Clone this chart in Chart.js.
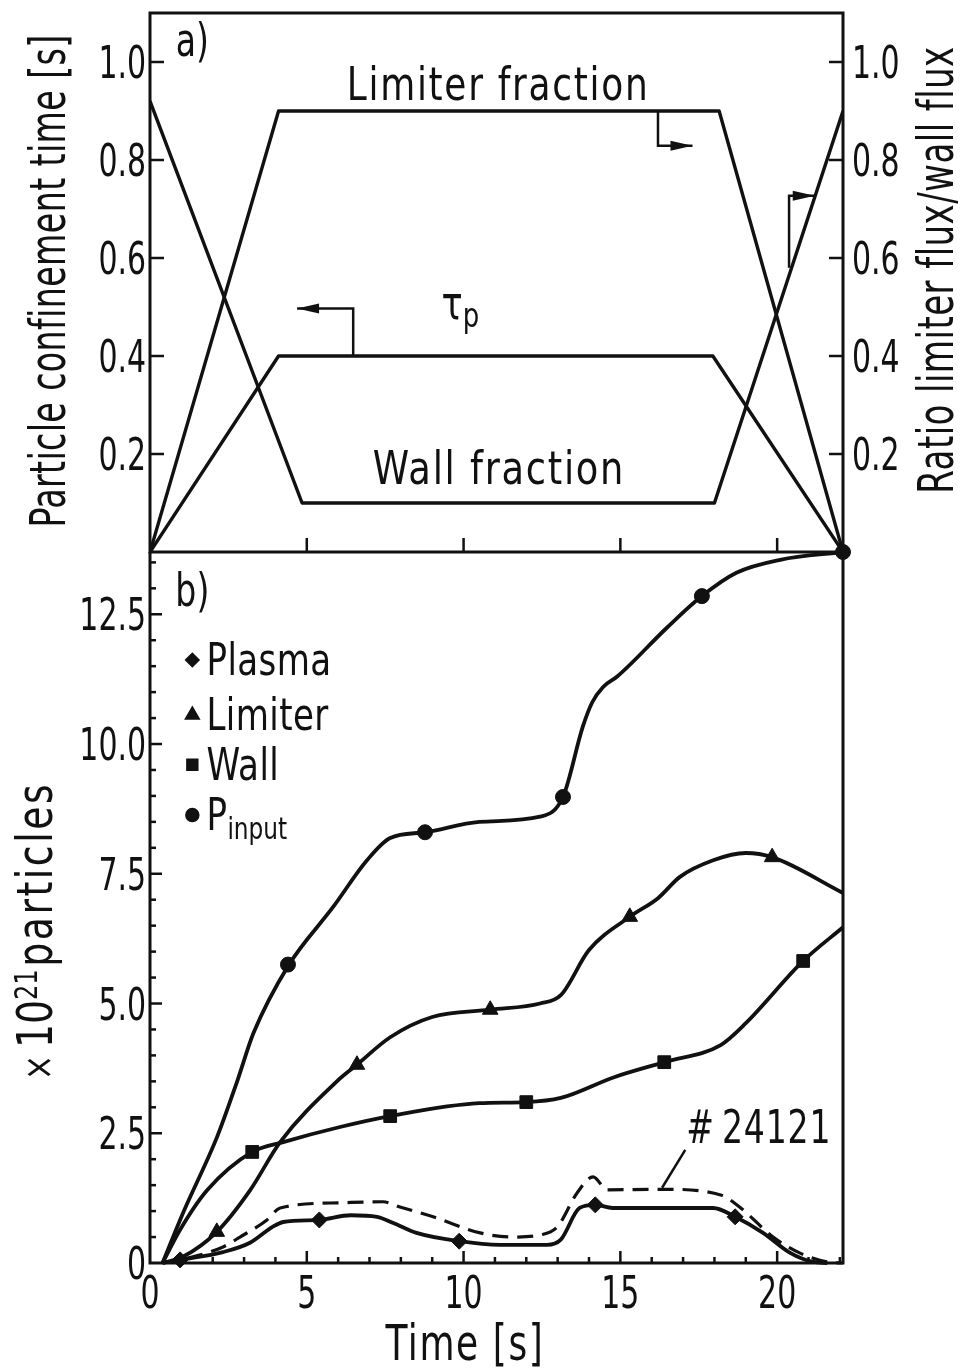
<!DOCTYPE html>
<html>
<head>
<meta charset="utf-8">
<script src="https://cdn.jsdelivr.net/npm/chart.js@4.4.1/dist/chart.umd.min.js"></script>
<style>
  html, body { margin: 0; padding: 0; background: #fff; }
  #wrap { position: relative; width: 961px; height: 1370px; overflow: hidden; }
  canvas { position: absolute; left: 0; }
  #top { top: 0; }
  #bottom { top: 540px; }
</style>
</head>
<body>
<div id="wrap">
  <canvas id="top" width="961" height="560"></canvas>
  <canvas id="bottom" width="961" height="830"></canvas>
</div>
<script>
const FONT = "'DejaVu Sans Condensed', 'DejaVu Sans', sans-serif";
const INK = '#111';

// panel a) – piecewise linear programme
const limFracTime = [0, 4.1, 18.15, 22.1];
const limFracVal = [0, 0.90, 0.90, 0];
const wallFracTime = [0, 4.85, 18.0, 22.1];
const wallFracVal = [0.92, 0.10, 0.10, 0.90];
const tauTime = [0, 4.1, 17.95, 22.1];
const tauVal = [0, 0.40, 0.40, 0];
const aTicks = [0.2, 0.4, 0.6, 0.8, 1.0];
const aTickLabels = ['0.2', '0.4', '0.6', '0.8', '1.0'];

// panel b) – particle inventories, x10^21
const pInTime = [0.4, 1.05, 2.14, 2.78, 3.3, 4.4, 5.84, 6.92, 7.66, 8.77, 10.5, 12.44, 13.17, 13.8, 14.1, 14.45, 14.9, 16.5, 17.6, 18.7, 20.1, 22.1];
const pInVal = [0, 0.96, 2.43, 3.5, 4.43, 5.72, 6.86, 7.76, 8.19, 8.3, 8.5, 8.6, 8.98, 10.33, 10.8, 11.1, 11.3, 12.25, 12.85, 13.3, 13.55, 13.7];
const limTime = [0.4, 1.05, 2.13, 3.19, 4.15, 5.96, 6.6, 7.66, 9.0, 10.85, 12.44, 13.1, 14.0, 15.3, 16.2, 16.9, 17.96, 19.0, 19.84, 22.1];
const limVal = [0, 0.12, 0.6, 1.4, 2.33, 3.5, 3.82, 4.35, 4.74, 4.88, 5.0, 5.16, 6.03, 6.67, 7.03, 7.44, 7.76, 7.9, 7.82, 7.13];
const wallTime = [0.4, 0.96, 1.82, 3.26, 4.25, 6.06, 7.66, 10.5, 12.0, 13.1, 14.8, 16.4, 18.2, 19.0, 20.83, 22.1];
const wallVal = [0, 0.64, 1.4, 2.14, 2.33, 2.62, 2.83, 3.08, 3.1, 3.18, 3.58, 3.87, 4.2, 4.62, 5.82, 6.47];
const plasmaTime = [0.4, 0.96, 2.33, 3.19, 3.92, 4.25, 5.4, 6.4, 7.24, 7.76, 8.5, 9.86, 11.16, 12.66, 13.1, 13.7, 14.2, 14.75, 17.96, 18.66, 19.55, 20.4, 21.15, 21.6];
const plasmaVal = [0, 0.06, 0.21, 0.39, 0.7, 0.79, 0.83, 0.92, 0.89, 0.77, 0.58, 0.42, 0.35, 0.35, 0.45, 1.06, 1.12, 1.06, 1.06, 0.89, 0.58, 0.2, 0.02, 0];
const shotTime = [0.4, 0.96, 2.33, 2.87, 3.73, 4.15, 6.06, 7.43, 7.97, 9.03, 10.53, 11.58, 12.44, 12.98, 13.62, 14.13, 14.58, 16.37, 18.2, 18.8, 19.87, 20.73, 21.6, 22.1];
const shotVal = [0, 0.06, 0.31, 0.5, 0.83, 1.06, 1.16, 1.18, 1.08, 0.89, 0.58, 0.5, 0.54, 0.69, 1.35, 1.66, 1.41, 1.42, 1.31, 1.08, 0.5, 0.19, 0.02, 0];

const pInMarkTime = [4.4, 8.77, 13.17, 17.6, 22.1];
const pInMarkVal = [5.75, 8.3, 8.98, 12.85, 13.7];
const limMarkTime = [2.13, 6.6, 10.85, 15.3, 19.84];
const limMarkVal = [0.6, 3.82, 4.88, 6.67, 7.82];
const wallMarkTime = [3.26, 7.66, 12.0, 16.4, 20.83];
const wallMarkVal = [2.14, 2.83, 3.1, 3.87, 5.82];
const plasmaMarkTime = [0.96, 5.4, 9.86, 14.2, 18.66];
const plasmaMarkVal = [0.06, 0.83, 0.42, 1.12, 0.89];

const bTicks = [0, 2.5, 5, 7.5, 10, 12.5];
const bTickLabels = ['0', '2.5', '5.0', '7.5', '10.0', '12.5'];
const timeTicks = [0, 5, 10, 15, 20];
const timeTickLabels = ['0', '5', '10', '15', '20'];

const pts = (xs, ys) => xs.map((x, i) => ({ x, y: ys[i] }));

function tick(ctx, x1, y1, x2, y2) {
  ctx.beginPath(); ctx.moveTo(x1, y1); ctx.lineTo(x2, y2); ctx.stroke();
}

function arrow(ctx, p) {
  ctx.beginPath();
  ctx.moveTo(p[0][0], p[0][1]);
  for (let i = 1; i < p.length; i++) ctx.lineTo(p[i][0], p[i][1]);
  ctx.stroke();
  const [px, py] = p[p.length - 2], [tx, ty] = p[p.length - 1];
  const a = Math.atan2(ty - py, tx - px), L = 22, W = 5;
  ctx.beginPath();
  ctx.moveTo(tx, ty);
  ctx.lineTo(tx - L * Math.cos(a) + W * Math.sin(a), ty - L * Math.sin(a) - W * Math.cos(a));
  ctx.lineTo(tx - L * Math.cos(a) - W * Math.sin(a), ty - L * Math.sin(a) + W * Math.cos(a));
  ctx.closePath();
  ctx.fill();
}

// text segments laid one after another from a baseline point, squeezed by sx
function rich(ctx, segs, x, y, o) {
  o = o || {};
  ctx.save();
  ctx.translate(x, y);
  if (o.rotate) ctx.rotate(o.rotate);
  ctx.scale(o.sx || 1, 1);
  ctx.fillStyle = INK;
  ctx.textBaseline = 'alphabetic';
  ctx.textAlign = 'left';
  let total = 0;
  segs.forEach(s => {
    ctx.font = `${s.size}px ${FONT}`;
    ctx.letterSpacing = (s.sp || 0) + 'px';
    s.w = ctx.measureText(s.t).width + (s.gap || 0);
    total += s.w;
  });
  let cx = o.align === 'left' ? 0 : o.align === 'right' ? -total : -total / 2;
  segs.forEach(s => {
    ctx.font = `${s.size}px ${FONT}`;
    ctx.letterSpacing = (s.sp || 0) + 'px';
    ctx.fillText(s.t, cx, s.dy || 0);
    cx += s.w;
  });
  ctx.restore();
}

const TICK_SIZE = 45, TICK_SX = 0.74;

const panelA = {
  id: 'panelA',
  afterDraw(chart) {
    const { ctx, chartArea: a, scales: { x, y, y2 } } = chart;
    ctx.save();
    ctx.strokeStyle = INK; ctx.fillStyle = INK;
    ctx.lineWidth = 3;
    ctx.strokeRect(a.left, a.top, a.right - a.left, a.bottom - a.top);
    ctx.lineWidth = 2.5;
    aTicks.forEach(v => {
      tick(ctx, a.left, y.getPixelForValue(v), a.left + 14, y.getPixelForValue(v));
      tick(ctx, a.right, y2.getPixelForValue(v), a.right - 14, y2.getPixelForValue(v));
    });
    timeTicks.slice(1).forEach(t => {
      const px = x.getPixelForValue(t);
      tick(ctx, px, a.bottom, px, a.bottom - 14);
    });
    const P = (t, v) => [x.getPixelForValue(t), y.getPixelForValue(v)];
    arrow(ctx, [P(6.48, 0.40), P(6.48, 0.497), P(4.69, 0.497)]);
    arrow(ctx, [P(16.2, 0.90), P(16.2, 0.829), P(17.3, 0.829)]);
    arrow(ctx, [P(20.38, 0.58), P(20.38, 0.727), P(21.2, 0.727)]);
    ctx.restore();

    aTicks.forEach((v, i) => {
      rich(ctx, [{ t: aTickLabels[i], size: TICK_SIZE }], a.left - 4, y.getPixelForValue(v) + 16, { sx: TICK_SX, align: 'right' });
      rich(ctx, [{ t: aTickLabels[i], size: TICK_SIZE }], a.right + 9, y2.getPixelForValue(v) + 16, { sx: TICK_SX, align: 'left' });
    });
    rich(ctx, [{ t: 'a)', size: 46 }], x.getPixelForValue(1.35), y.getPixelForValue(1.045) + 16, { sx: 0.8 });
    rich(ctx, [{ t: 'Limiter fraction', size: 47, sp: 2 }], x.getPixelForValue(11.1), y.getPixelForValue(0.957) + 17, { sx: 0.85 });
    rich(ctx, [{ t: 'Wall fraction', size: 47, sp: 2 }], x.getPixelForValue(11.13), y.getPixelForValue(0.173) + 17, { sx: 0.87 });
    rich(ctx, [{ t: 'τ', size: 46 }, { t: 'p', size: 34, dy: 8 }], x.getPixelForValue(9.9), y.getPixelForValue(0.505) + 14, { sx: 0.85 });
    rich(ctx, [{ t: 'Particle confinement time [s]', size: 50, sp: 0.5 }], 65, 281, { rotate: -Math.PI / 2, sx: 0.74 });
    rich(ctx, [{ t: 'Ratio limiter flux/wall flux', size: 50, sp: 0.5 }], 953, 270, { rotate: -Math.PI / 2, sx: 0.76 });
  }
};

const legendRows = [
  { style: 'rectRot', r: 6, name: 'Plasma', v: 11.62 },
  { style: 'triangle', r: 7, name: 'Limiter', v: 10.56 },
  { style: 'rect', r: 7, name: 'Wall', v: 9.6 },
  { style: 'circle', r: 6, name: 'P', sub: 'input', v: 8.63 }
];

function mark(ctx, style, r, px, py) {
  ctx.fillStyle = INK; ctx.strokeStyle = INK;
  if (Chart.helpers && Chart.helpers.drawPoint) {
    Chart.helpers.drawPoint(ctx, { pointStyle: style, radius: r, borderWidth: 1, rotation: 0 }, px, py);
  } else {
    ctx.beginPath(); ctx.arc(px, py, r, 0, 2 * Math.PI); ctx.fill();
  }
}

const panelB = {
  id: 'panelB',
  afterDraw(chart) {
    const { ctx, chartArea: a, scales: { x, y } } = chart;
    ctx.save();
    ctx.strokeStyle = INK; ctx.fillStyle = INK;
    ctx.lineWidth = 3;
    ctx.beginPath();
    ctx.moveTo(a.left, a.top); ctx.lineTo(a.left, a.bottom);
    ctx.lineTo(a.right, a.bottom); ctx.lineTo(a.right, a.top);
    ctx.stroke();
    ctx.lineWidth = 2.5;
    for (let v = 0.5; v < 13.75; v += 0.5) {
      const major = Math.abs(v / 2.5 - Math.round(v / 2.5)) < 1e-6;
      const py = y.getPixelForValue(v);
      tick(ctx, a.left, py, a.left + (major ? 12 : 6), py);
    }
    for (let t = 1; t <= 22; t++) {
      const px = x.getPixelForValue(t);
      tick(ctx, px, a.bottom, px, a.bottom - (t % 5 === 0 ? 12 : 6));
    }
    // leader to the dashed curve
    tick(ctx, x.getPixelForValue(17.07), y.getPixelForValue(2.18), x.getPixelForValue(16.33), y.getPixelForValue(1.45));
    legendRows.forEach(row => {
      mark(ctx, row.style, row.r, x.getPixelForValue(1.35), y.getPixelForValue(row.v));
    });
    ctx.restore();

    bTicks.forEach((v, i) => {
      rich(ctx, [{ t: bTickLabels[i], size: TICK_SIZE }], a.left - 4, y.getPixelForValue(v) + 16, { sx: TICK_SX, align: 'right' });
    });
    timeTicks.forEach((t, i) => {
      rich(ctx, [{ t: timeTickLabels[i], size: TICK_SIZE }], x.getPixelForValue(t), a.bottom + 45, { sx: TICK_SX });
    });
    legendRows.forEach(row => {
      const segs = [{ t: row.name, size: 44, sp: 0.5 }];
      if (row.sub) segs.push({ t: row.sub, size: 30, dy: 9 });
      rich(ctx, segs, x.getPixelForValue(1.8), y.getPixelForValue(row.v) + 15, { align: 'left', sx: 0.86 });
    });
    rich(ctx, [{ t: 'b)', size: 46 }], x.getPixelForValue(1.35), y.getPixelForValue(12.97) + 16, { sx: 0.8 });
    rich(ctx, [{ t: '#', size: 46, gap: 10 }, { t: '24121', size: 46, sp: 1 }], x.getPixelForValue(17.1), y.getPixelForValue(2.62) + 16, { align: 'left', sx: 0.8 });
    rich(ctx, [{ t: 'Time [s]', size: 50, sp: 2 }], 465, a.bottom + 97, { sx: 0.8 });
    rich(ctx, [
      { t: '×', size: 40, gap: 8 },
      { t: '10', size: 50 },
      { t: '21', size: 32, dy: -15, gap: 3 },
      { t: 'particles', size: 50, sp: 3 }
    ], 52, 931 - 540, { rotate: -Math.PI / 2, sx: 0.84 });
  }
};

const hiddenTicks = { display: false };

new Chart(document.getElementById('top'), {
  type: 'line',
  data: {
    datasets: [
      { data: pts(limFracTime, limFracVal), yAxisID: 'y2' },
      { data: pts(wallFracTime, wallFracVal), yAxisID: 'y2' },
      { data: pts(tauTime, tauVal), yAxisID: 'y' }
    ]
  },
  options: {
    responsive: false,
    animation: false,
    layout: { padding: { top: 13, bottom: 8, left: 0, right: 0 } },
    elements: {
      line: { borderColor: INK, borderWidth: 3.4, tension: 0, borderJoinStyle: 'round' },
      point: { radius: 0 }
    },
    plugins: { legend: { display: false }, tooltip: { enabled: false } },
    scales: {
      x: { type: 'linear', min: 0, max: 22.1, display: false },
      y: {
        position: 'left', min: 0, max: 1.1,
        grid: { display: false }, border: { display: false },
        afterBuildTicks: s => { s.ticks = aTicks.map(v => ({ value: v })); },
        ticks: hiddenTicks,
        afterFit: s => { s.width = 150; }
      },
      y2: {
        position: 'right', min: 0, max: 1.1,
        grid: { display: false }, border: { display: false },
        afterBuildTicks: s => { s.ticks = aTicks.map(v => ({ value: v })); },
        ticks: hiddenTicks,
        afterFit: s => { s.width = 118; }
      }
    }
  },
  plugins: [panelA]
});

const curve = (xs, ys, extra) => Object.assign({
  data: pts(xs, ys), borderColor: INK, borderWidth: 3.8, pointRadius: 0,
  cubicInterpolationMode: 'monotone', clip: false
}, extra || {});
const marks = (xs, ys, style, r) => ({
  data: pts(xs, ys), showLine: false, pointStyle: style, pointRadius: r,
  pointBackgroundColor: INK, pointBorderColor: INK, pointBorderWidth: 1, clip: false
});

new Chart(document.getElementById('bottom'), {
  type: 'line',
  data: {
    datasets: [
      curve(pInTime, pInVal),
      curve(limTime, limVal),
      curve(wallTime, wallVal),
      curve(plasmaTime, plasmaVal),
      curve(shotTime, shotVal, { borderDash: [16, 9], borderWidth: 3.2 }),
      marks(pInMarkTime, pInMarkVal, 'circle', 7.5),
      marks(limMarkTime, limMarkVal, 'triangle', 9),
      marks(wallMarkTime, wallMarkVal, 'rect', 9),
      marks(plasmaMarkTime, plasmaMarkVal, 'rectRot', 8)
    ]
  },
  options: {
    responsive: false,
    animation: false,
    layout: { padding: { top: 12, bottom: 0, left: 0, right: 118 } },
    plugins: { legend: { display: false }, tooltip: { enabled: false } },
    scales: {
      x: {
        type: 'linear', min: 0, max: 22.1,
        grid: { display: false }, border: { display: false },
        afterBuildTicks: s => { s.ticks = timeTicks.map(v => ({ value: v })); },
        ticks: hiddenTicks,
        afterFit: s => { s.height = 107; }
      },
      y: {
        min: 0, max: 13.7,
        grid: { display: false }, border: { display: false },
        afterBuildTicks: s => { s.ticks = bTicks.map(v => ({ value: v })); },
        ticks: hiddenTicks,
        afterFit: s => { s.width = 150; }
      }
    }
  },
  plugins: [panelB]
});
</script>
</body>
</html>
